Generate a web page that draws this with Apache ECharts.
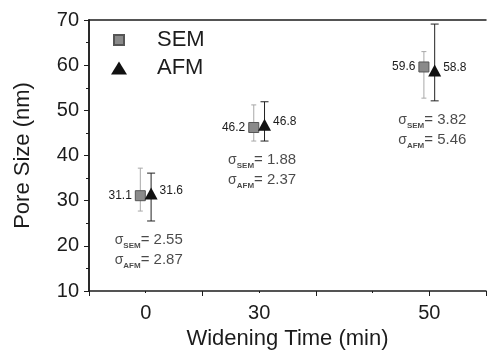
<!DOCTYPE html>
<html>
<head>
<meta charset="utf-8">
<script src="https://cdn.jsdelivr.net/npm/echarts@6/dist/echarts.min.js"></script>
<style>
  html, body { margin: 0; padding: 0; background: #fff; }
  #chart { width: 488px; height: 355px; }
</style>
</head>
<body>
<div id="chart"></div>
<script>
// values
const widening = ['0', '30', '50'];
const semSize = [31.1, 46.2, 59.6];
const afmSize = [31.6, 46.8, 58.8];
const semLow = [27.7, 43.2, 52.7];
const semHigh = [37.2, 51.2, 63.0];
const afmLow = [25.5, 43.2, 52.1];
const afmHigh = [36.1, 51.9, 69.1];
const semSigma = ['2.55', '1.88', '3.82'];
const afmSigma = ['2.87', '2.37', '5.46'];

// the original axis puts the three times on uneven slots
const slot = [1, 3, 6];
const dodge = 0.095;
const ink = '#1c1c1c';
const font = '"Liberation Sans", Arial, sans-serif';

const chart = echarts.init(document.getElementById('chart'));

const errBar = (color, cap) => (params, api) => {
    const lo = api.coord([api.value(0), api.value(1)]);
    const hi = api.coord([api.value(0), api.value(2)]);
    const style = { stroke: color, lineWidth: 1 };
    return {
        type: 'group',
        children: [
            { type: 'line', shape: { x1: lo[0], y1: lo[1], x2: hi[0], y2: hi[1] }, style },
            { type: 'line', shape: { x1: lo[0] - cap, y1: lo[1], x2: lo[0] + cap, y2: lo[1] }, style },
            { type: 'line', shape: { x1: hi[0] - cap, y1: hi[1], x2: hi[0] + cap, y2: hi[1] }, style }
        ]
    };
};

const axisLine = { show: true, lineStyle: { color: ink, width: 1.5 } };

const option = {
    animation: false,
    textStyle: { fontFamily: font, color: ink },
    grid: { left: 89, right: 2, top: 20, bottom: 57 },
    legend: [
        {
            data: [{ name: 'SEM', icon: 'rect' }],
            left: 113, top: 28, padding: 0,
            itemWidth: 10, itemHeight: 10,
            textStyle: { fontSize: 22, color: ink, fontFamily: font, lineHeight: 24, padding: [0, 0, 0, 28] }
        },
        {
            data: [{ name: 'AFM', icon: 'triangle' }],
            left: 111, top: 56, padding: 0,
            itemWidth: 16, itemHeight: 13,
            textStyle: { fontSize: 22, color: ink, fontFamily: font, lineHeight: 24, padding: [0, 0, 0, 25] }
        }
    ],
    xAxis: [
        {
            type: 'value', min: 0, max: 7, interval: 2,
            position: 'bottom',
            axisLine,
            axisTick: { show: true, length: 5, lineStyle: { color: ink } },
            minorTick: { show: true, splitNumber: 2, length: 2, lineStyle: { color: ink } },
            splitLine: { show: false },
            axisLabel: {
                customValues: slot,
                formatter: v => widening[slot.indexOf(v)],
                fontSize: 20, color: ink, fontFamily: font, margin: 12
            },
            name: 'Widening Time (min)',
            nameLocation: 'middle', nameGap: 37,
            nameTextStyle: { fontSize: 22, color: ink, fontFamily: font }
        },
        {
            type: 'value', min: 0, max: 7, position: 'top',
            axisLine, axisTick: { show: false }, axisLabel: { show: false }, splitLine: { show: false }
        }
    ],
    yAxis: [
        {
            type: 'value', min: 10, max: 70, interval: 10,
            axisLine,
            axisTick: { show: true, length: 5, lineStyle: { color: ink } },
            minorTick: { show: true, splitNumber: 2, length: 3, lineStyle: { color: ink } },
            splitLine: { show: false },
            axisLabel: { fontSize: 20, color: ink, fontFamily: font, margin: 10 },
            name: 'Pore Size (nm)',
            nameLocation: 'middle', nameGap: 55,
            nameTextStyle: { fontSize: 22, color: ink, fontFamily: font }
        },
        {
            type: 'value', min: 10, max: 70, interval: 10, position: 'right',
            axisLine,
            axisTick: { show: true, inside: true, length: 5, lineStyle: { color: ink } },
            minorTick: { show: true, splitNumber: 2, length: 3, lineStyle: { color: ink } },
            axisLabel: { show: false }, splitLine: { show: false }
        }
    ],
    series: [
        {
            name: 'SEM err', type: 'custom',
            renderItem: errBar('#a8a8a8', 2.5),
            data: semLow.map((lo, i) => [slot[i] - dodge, lo, semHigh[i]]),
            z: 1
        },
        {
            name: 'AFM err', type: 'custom',
            renderItem: errBar('#222', 4),
            data: afmLow.map((lo, i) => [slot[i] + dodge, lo, afmHigh[i]]),
            z: 1
        },
        {
            name: 'SEM', type: 'scatter',
            symbol: 'rect', symbolSize: 10,
            itemStyle: { color: '#8a8a8a', borderColor: '#555', borderWidth: 1, opacity: 1 },
            label: {
                show: true, position: 'left', distance: 3,
                formatter: p => semSize[p.dataIndex].toFixed(1),
                fontSize: 12, color: ink, fontFamily: font
            },
            data: semSize.map((v, i) => [slot[i] - dodge, v]),
            z: 3
        },
        {
            name: 'AFM', type: 'scatter',
            symbol: 'triangle', symbolSize: [13, 12],
            itemStyle: { color: '#111', opacity: 1 },
            label: {
                show: true, position: 'right', distance: 2, offset: [0, -3],
                formatter: p => afmSize[p.dataIndex].toFixed(1),
                fontSize: 12, color: ink, fontFamily: font
            },
            data: afmSize.map((v, i) => [slot[i] + dodge, v]),
            z: 4
        },
        {
            name: 'sigma', type: 'scatter',
            symbolSize: 1,
            itemStyle: { color: 'rgba(0,0,0,0)' },
            silent: true,
            label: {
                show: true, position: 'inside', offset: [3, 29],
                formatter: p => '{s|σ}{sub|SEM}{t|= ' + semSigma[p.dataIndex] + '}\n' +
                    '{s|σ}{sub|AFM}{t|= ' + afmSigma[p.dataIndex] + '}',
                rich: {
                    s: { fontSize: 14, color: ink, fontFamily: font, lineHeight: 20 },
                    sub: { fontSize: 8, fontWeight: 'bold', color: ink, fontFamily: font, verticalAlign: 'bottom', lineHeight: 10 },
                    t: { fontSize: 15, color: ink, fontFamily: font, lineHeight: 20 }
                }
            },
            data: afmLow.map((lo, i) => [slot[i], Math.min(lo, semLow[i])]),
            z: 2
        }
    ]
};

chart.setOption(option);
</script>
</body>
</html>
